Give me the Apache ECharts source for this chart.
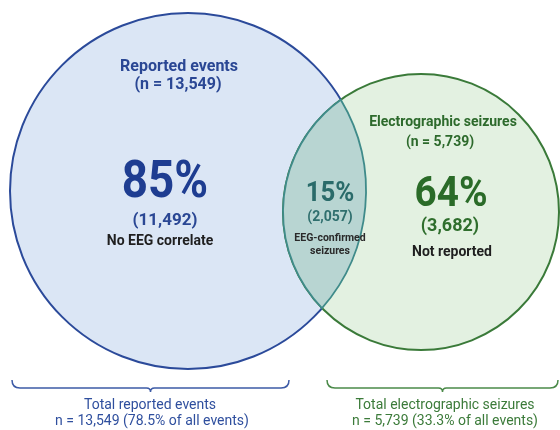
<!DOCTYPE html>
<html>
<head>
<meta charset="utf-8">
<script src="https://cdn.jsdelivr.net/npm/echarts@6/dist/echarts.min.js"></script>
<style>
html,body{margin:0;padding:0;background:#fff;}
#chart{width:560px;height:430px;}
</style>
</head>
<body>
<div id="chart"></div>
<script>
// ---- data ----
const setNames = ['Reported events', 'Electrographic seizures'];
const setTotals = [13549, 5739];
const regionPercents = [85, 15, 64];
const regionCounts = [11492, 2057, 3682];
const regionLabels = ['No EEG correlate', 'EEG-confirmed\nseizures', 'Not reported'];
const totalLabels = ['Total reported events', 'Total electrographic seizures'];
const totalShares = [78.5, 33.3];

const fmt = v => v.toLocaleString('en-US');

// ---- layout (drawing geometry, in axis units = pixels) ----
const circles = [
  {cx: 188, cy: 191, r: 178, fill: '#dbe6f5', stroke: '#2b4a9a'},
  {cx: 421, cy: 212, r: 138, fill: '#e3f1e1', stroke: '#3a7a39'}
];
const lensStyle = {fill: '#b8d5d2', stroke: '#3f8b8a'};
const braces = [
  {x0: 12, x1: 289, y: 380, color: '#3d5ba6'},
  {x0: 327, x1: 558, y: 380, color: '#4b8a49'}
];

function intersections(a, b) {
  const dx = b.cx - a.cx, dy = b.cy - a.cy;
  const d = Math.sqrt(dx * dx + dy * dy);
  const l = (a.r * a.r - b.r * b.r + d * d) / (2 * d);
  const h = Math.sqrt(a.r * a.r - l * l);
  const mx = a.cx + l * dx / d, my = a.cy + l * dy / d;
  const px = -dy / d * h, py = dx / d * h;
  const p1 = [mx - px, my - py], p2 = [mx + px, my + py];
  return p1[1] < p2[1] ? [p1, p2] : [p2, p1];
}

function renderItem(params, api) {
  const i = params.dataIndex;
  if (i < 2) {
    const c = circles[i];
    const p = api.coord([c.cx, c.cy]);
    const s = api.size([c.r, c.r]);
    return {
      type: 'circle',
      shape: {cx: p[0], cy: p[1], r: s[0]},
      style: {fill: c.fill, stroke: c.stroke, lineWidth: 2}
    };
  }
  if (i === 2) {
    const [top, bot] = intersections(circles[0], circles[1]);
    const t = api.coord(top), b = api.coord(bot);
    const r1 = api.size([circles[0].r, 0])[0], r2 = api.size([circles[1].r, 0])[0];
    const d = `M${t[0]},${t[1]} A${r1},${r1} 0 0 1 ${b[0]},${b[1]} A${r2},${r2} 0 0 1 ${t[0]},${t[1]} Z`;
    return {
      type: 'path',
      shape: {pathData: d},
      style: {fill: lensStyle.fill, stroke: lensStyle.stroke, lineWidth: 1.8}
    };
  }
  const br = braces[i - 3];
  const a = api.coord([br.x0, br.y]);
  const e = api.coord([br.x1, br.y]);
  const m = (a[0] + e[0]) / 2;
  const y0 = a[1], y1 = y0 + 8, y2 = y0 + 12;
  const d = `M${a[0]},${y0} Q${a[0]},${y1} ${a[0] + 8},${y1} L${m - 4},${y1} Q${m},${y1} ${m},${y2} Q${m},${y1} ${m + 4},${y1} L${e[0] - 8},${y1} Q${e[0]},${y1} ${e[0]},${y0}`;
  return {
    type: 'path',
    shape: {pathData: d},
    style: {fill: null, stroke: br.color, lineWidth: 1.5}
  };
}

const font = 'Roboto';
function txt(x, y, text, size, color, weight, sx) {
  return {
    type: 'text', x: x, y: y, z: 100,
    scaleX: sx || 1, scaleY: 1,
    style: {
      text: text, fill: color, font: `${weight || 'bold'} ${size}px ${font}`,
      textAlign: 'center', textVerticalAlign: 'middle', lineHeight: size + 3
    }
  };
}

const graphics = [
  txt(179, 67, setNames[0], 16, '#2a4794'),
  txt(178, 85, `(n = ${fmt(setTotals[0])})`, 16, '#2a4794'),
  txt(165, 184, `${regionPercents[0]}%`, 52, '#1e3d91', 'bold', 0.88),
  txt(165, 221, `(${fmt(regionCounts[0])})`, 17, '#2a4794'),
  txt(160, 241, regionLabels[0], 14, '#1f1f1f'),

  txt(330, 194, `${regionPercents[1]}%`, 28, '#2a6b6a', 'bold', 0.92),
  txt(330, 217, `(${fmt(regionCounts[1])})`, 14, '#2f6f6e'),
  txt(330, 245, regionLabels[1], 10.5, '#2a2a2a'),

  txt(443, 122, setNames[1], 14, '#2d6a2c'),
  txt(440, 142, `(n = ${fmt(setTotals[1])})`, 14, '#2d6a2c'),
  txt(451, 195, `${regionPercents[2]}%`, 43, '#2a6b28', 'bold', 0.9),
  txt(450, 226, `(${fmt(regionCounts[2])})`, 18, '#2f6e2d'),
  txt(452, 252, regionLabels[2], 14, '#1f1f1f'),

  txt(150, 405, totalLabels[0], 14, '#2f4f9e', 'normal'),
  txt(152, 421, `n = ${fmt(setTotals[0])} (${totalShares[0]}% of all events)`, 14, '#2f4f9e', 'normal'),
  txt(445, 405, totalLabels[1], 14, '#3c7b3a', 'normal'),
  txt(445, 421, `n = ${fmt(setTotals[1])} (${totalShares[1]}% of all events)`, 14, '#3c7b3a', 'normal')
];

const chart = echarts.init(document.getElementById('chart'), null, {renderer: 'canvas'});
chart.setOption({
  backgroundColor: '#ffffff',
  animation: false,
  grid: {left: 0, right: 0, top: 0, bottom: 0},
  xAxis: {type: 'value', min: 0, max: 560, show: false},
  yAxis: {type: 'value', min: 0, max: 430, inverse: true, show: false},
  series: [{
    type: 'custom',
    renderItem: renderItem,
    clip: false,
    silent: true,
    data: [setTotals[0], setTotals[1], regionCounts[1], 0, 0].map((v, i) => [i, v])
  }],
  graphic: graphics
});
</script>
</body>
</html>
